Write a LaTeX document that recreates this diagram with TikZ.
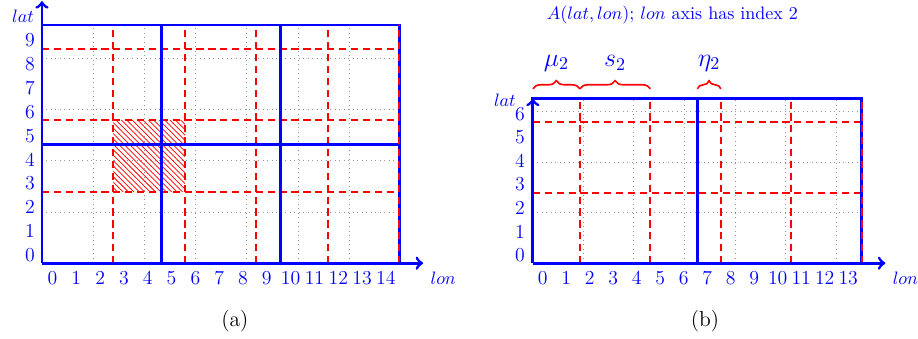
\documentclass[tikz,border=0pt]{standalone}
\usepackage{amsmath}
\usetikzlibrary{arrows.meta,decorations.pathreplacing,patterns}
\definecolor{axisblue}{RGB}{0,0,255}
\definecolor{chunkred}{RGB}{255,0,0}
\definecolor{gridgrey}{RGB}{150,150,150}

\begin{document}
\begin{tikzpicture}[
    x=0.465cm,
    y=0.465cm,
    font=\rmfamily\normalsize,
    >=to,
    cellgrid/.style={
      draw=gridgrey,
      dotted,
      line width=0.5pt
    },
    blockline/.style={
      draw=axisblue,
      line width=1.6pt,
      line cap=rect
    },
    chunkline/.style={
      draw=chunkred,
      line width=1.1pt,
      dash pattern=on 4pt off 2.6pt
    },
    axisline/.style={
      ->,
      draw=axisblue,
      line width=1.6pt
    },
    ticklabel/.style={
      text=axisblue,
      inner sep=0pt,
      font=\fontsize{11}{13}\selectfont
    },
    axislabel/.style={
      text=axisblue,
      inner sep=0pt
    },
    bracelabel/.style={
      text=axisblue,
      inner sep=0pt,
      font=\Large
    },
    chunkbrace/.style={
      decorate,
      decoration={brace,amplitude=4.5pt},
      draw=chunkred,
      line width=0.9pt
    },
    caption/.style={
      text=black,
      inner sep=0pt,
      font=\large
    }
]
\useasboundingbox (-1.763,-3.18) rectangle (36.78,11.05);

% Panel (a): 15 x 10 array, chunks of 3, blocks of 5.
\draw[cellgrid] (0,0) grid (15,10);
\fill[pattern=north west lines,pattern color=chunkred] (3,3) rectangle (6,6);

\foreach \x in {3,6,9,12} {
  \draw[chunkline] (\x,0) -- (\x,10);
}
\foreach \y in {3,6,9} {
  \draw[chunkline] (0,\y) -- (15,\y);
}
\foreach \x in {5,10,15} {
  \draw[blockline] (\x,0) -- (\x,10);
}
\foreach \y in {5,10} {
  \draw[blockline] (0,\y) -- (15,\y);
}
\draw[chunkline] (15,0) -- (15,10);

\draw[axisline] (0,0) -- (16,0);
\draw[axisline] (0,0) -- (0,11);

\foreach \i in {0,...,14} {
  \node[ticklabel] (alon\i) at (\i+0.44,-0.62) {\i};
}
\foreach \j in {0,...,9} {
  \node[ticklabel] (alat\j) at (-0.5,\j+0.35) {\j};
}
\node[axislabel,anchor=west] (alonlabel) at (16.3,-0.62) {$lon$};
\node[axislabel] (alatlabel) at (-0.8,10.35) {$lat$};
\node[caption] (acaption) at (8.1,-2.45) {(a)};

% Panel (b): 14 x 7 array along lon, offset 2, stride 3, blocks of 7.
\begin{scope}[shift={(20.61,0)},scale=0.9866]
  \draw[cellgrid] (0,0) grid (14,7);

  \foreach \x in {2,5,8,11} {
    \draw[chunkline] (\x,0) -- (\x,7);
  }
  \foreach \y in {3,6} {
    \draw[chunkline] (0,\y) -- (14,\y);
  }
  \foreach \x in {7,14} {
    \draw[blockline] (\x,0) -- (\x,7);
  }
  \draw[blockline] (0,7) -- (14,7);
  \draw[chunkline] (14,0) -- (14,7);

  \draw[axisline] (0,0) -- (15,0);
  \draw[axisline] (0,0) -- (0,7);

  \foreach \i in {0,...,13} {
    \node[ticklabel] (blon\i) at (\i+0.42,-0.62) {\i};
  }
  \foreach \j in {0,...,6} {
    \node[ticklabel] (blat\j) at (-0.55,\j+0.35) {\j};
  }
  \node[axislabel,anchor=west] (blonlabel) at (15.3,-0.62) {$lon$};
  \node[axislabel] (blatlabel) at (-1.19,6.95) {$lat$};

  \node[axislabel] (btitle) at (5.94,10.57)
    {$A(lat,lon)$; $lon$ axis has index 2};

  % Offset, stride and block remainder along the lon axis.
  \draw[chunkbrace] (0,7.42) -- (2,7.42);
  \draw[chunkbrace] (2,7.42) -- (5,7.42);
  \draw[chunkbrace] (7,7.42) -- (8,7.42);
  \node[bracelabel] (bmu) at (1,8.52) {$\mu_2$};
  \node[bracelabel] (bs) at (3.5,8.52) {$s_2$};
  \node[bracelabel] (beta) at (7.5,8.52) {$\eta_2$};

  \node[caption] (bcaption) at (7.32,-2.48) {(b)};
\end{scope}

\end{tikzpicture}
\end{document}
